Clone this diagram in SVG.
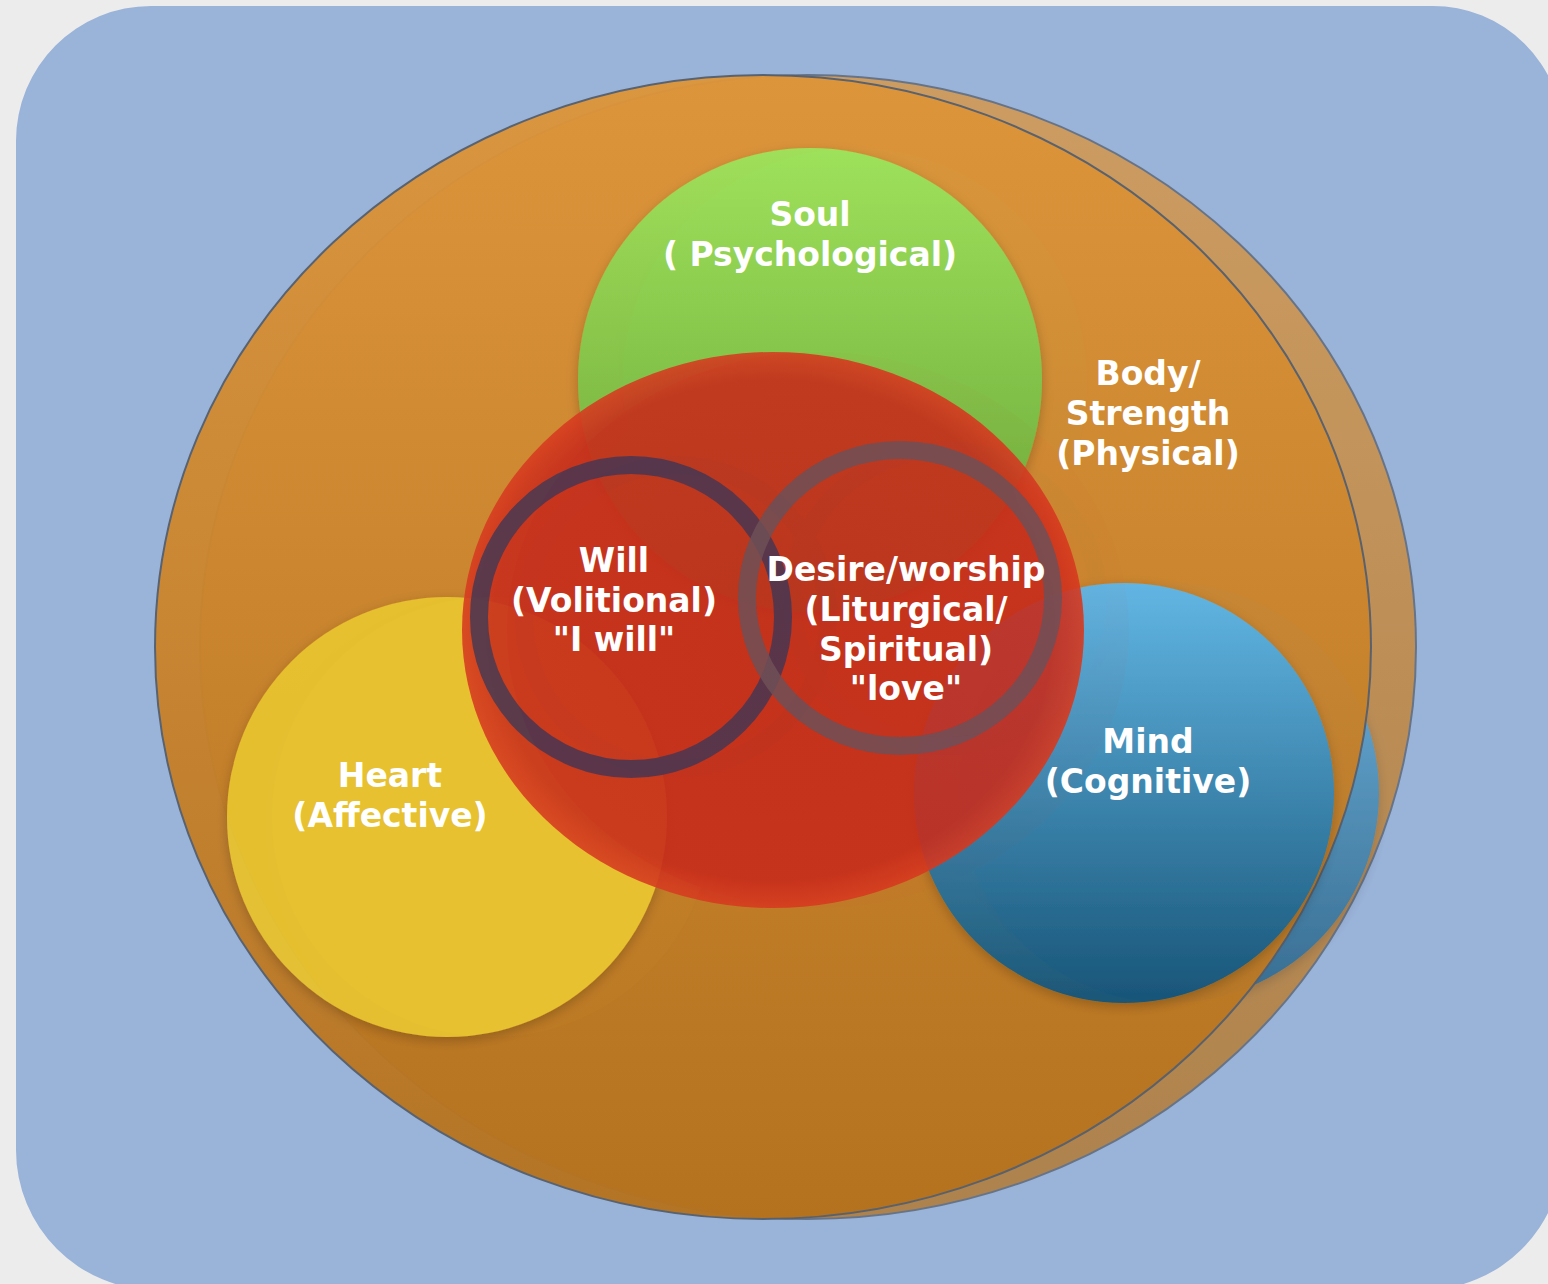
<svg xmlns="http://www.w3.org/2000/svg" width="1548" height="1284" viewBox="0 0 1548 1284">
<defs>
<linearGradient id="gOrange" x1="0" y1="0" x2="0" y2="1"><stop offset="0" stop-color="#de953a"/><stop offset="1" stop-color="#b5721e"/></linearGradient>
<linearGradient id="gGreen" x1="0" y1="0" x2="0" y2="1"><stop offset="0" stop-color="#9fe25a"/><stop offset="1" stop-color="#66a436"/></linearGradient>
<linearGradient id="gBlue" x1="0" y1="0" x2="0" y2="1"><stop offset="0" stop-color="#62b6e4"/><stop offset="1" stop-color="#175578"/></linearGradient>
<radialGradient id="gRed" cx="0.5" cy="0.5" r="0.5"><stop offset="0" stop-color="#c42818"/><stop offset="0.9" stop-color="#c82a1a"/><stop offset="1" stop-color="#d8391e"/></radialGradient>
<filter id="sh" x="-10%" y="-10%" width="120%" height="120%"><feDropShadow dx="0" dy="4" stdDeviation="6" flood-color="#000" flood-opacity="0.22"/></filter>
<style>
.t{font-family:"DejaVu Sans","Verdana",sans-serif;font-weight:bold;font-size:33px;fill:#fff;text-anchor:middle}
.big{fill:url(#gOrange);stroke:#56606e;stroke-width:2}
.green{fill:url(#gGreen)}
.yellow{fill:#e8c22e}
.blue{fill:url(#gBlue)}
.red{fill:url(#gRed);opacity:0.9}
.ringW{fill:none;stroke:#4a3550;stroke-width:18;opacity:0.9}
.ringD{fill:none;stroke:#6c5058;stroke-width:18;opacity:0.85}
</style>
<g id="layer">
<ellipse class="big" cx="763" cy="647" rx="608" ry="572"/>
<circle class="green" cx="810" cy="380" r="232" filter="url(#sh)"/>
<circle class="yellow" cx="447" cy="817" r="220" filter="url(#sh)"/>
<circle class="blue" cx="1124" cy="793" r="210" filter="url(#sh)"/>
<ellipse class="red" cx="773" cy="630" rx="311" ry="278"/>
<circle class="ringW" cx="631" cy="617" r="152"/>
<ellipse class="ringD" cx="900" cy="598" rx="153" ry="148"/>
</g>
</defs>
<rect x="0" y="0" width="1548" height="1284" fill="#ececec"/>
<path d="M151,6 H1432 A130,130 0 0 1 1563,136 V1150 A140,140 0 0 1 1423,1290 H156 A140,140 0 0 1 16,1150 V141 A135,135 0 0 1 151,6 Z" fill="#9ab3d9"/>
<g id="ghost" transform="translate(45,0)" opacity="0.75">
<use href="#layer"/>
</g>
<g id="main" opacity="0.96">
<g id="body-strength">
<ellipse class="big" cx="763" cy="647" rx="608" ry="572"/>
</g>
<g id="soul">
<circle class="green" cx="810" cy="380" r="232" filter="url(#sh)"/>
</g>
<g id="heart">
<circle class="yellow" cx="447" cy="817" r="220" filter="url(#sh)"/>
</g>
<g id="mind">
<circle class="blue" cx="1124" cy="793" r="210" filter="url(#sh)"/>
</g>
<g id="core">
<ellipse class="red" cx="773" cy="630" rx="311" ry="278"/>
</g>
<g id="will">
<circle class="ringW" cx="631" cy="617" r="152"/>
</g>
<g id="desire">
<ellipse class="ringD" cx="900" cy="598" rx="153" ry="148"/>
</g>
</g>
<g id="labels">
<g id="soul-label"><text class="t" x="810" y="226">Soul</text><text class="t" x="810" y="266">( Psychological)</text></g>
<g id="body-label"><text class="t" x="1148" y="385">Body/</text><text class="t" x="1148" y="425">Strength</text><text class="t" x="1148" y="465">(Physical)</text></g>
<g id="will-label"><text class="t" x="614" y="572">Will</text><text class="t" x="614" y="612">(Volitional)</text><text class="t" x="614" y="651">"I will"</text></g>
<g id="desire-label"><text class="t" x="906" y="581">Desire/worship</text><text class="t" x="906" y="621">(Liturgical/</text><text class="t" x="906" y="661">Spiritual)</text><text class="t" x="906" y="700">"love"</text></g>
<g id="heart-label"><text class="t" x="390" y="787">Heart</text><text class="t" x="390" y="827">(Affective)</text></g>
<g id="mind-label"><text class="t" x="1148" y="753">Mind</text><text class="t" x="1148" y="793">(Cognitive)</text></g>
</g>
</svg>
